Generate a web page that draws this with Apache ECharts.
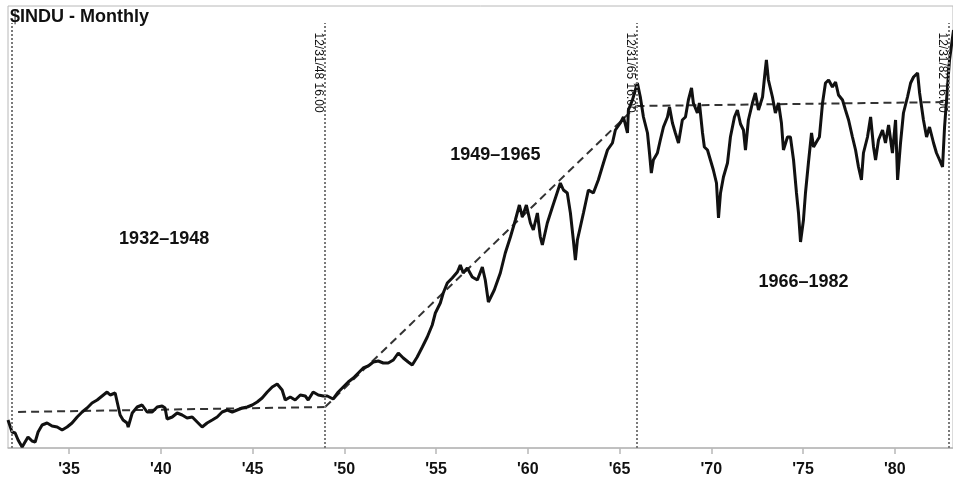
<!DOCTYPE html>
<html>
<head>
<meta charset="utf-8">
<script src="https://cdn.jsdelivr.net/npm/echarts@6/dist/echarts.min.js"></script>
<style>
html,body{margin:0;padding:0;background:#fff;}
#chart{width:953px;height:485px;}
</style>
</head>
<body>
<div id="chart"></div>
<script>
// DJIA monthly, [decimal year, index level]
const djia1932_1948 = [
[1931.67,145],[1931.89,115],[1932.06,112.5],[1932.22,95],[1932.44,77.5],[1932.60,90],[1932.76,102.5],[1932.98,92.5],
[1933.15,90],[1933.31,115],[1933.53,132.5],[1933.80,137.5],[1934.07,130],[1934.35,127.5],[1934.62,120],[1934.89,127.5],
[1935.16,137.5],[1935.44,152.5],[1935.71,165],[1935.98,175],[1936.25,187.5],[1936.53,195],[1936.80,205],[1937.07,215],
[1937.24,207.5],[1937.51,212.5],[1937.62,190],[1937.78,157.5],[1937.94,145],[1938.16,137.5],[1938.22,127.5],[1938.44,162.5],
[1938.71,177.5],[1938.98,182.5],[1939.25,165],[1939.53,165],[1939.80,177.5],[1940.07,180],[1940.23,175],[1940.34,147.5],
[1940.62,152.5],[1940.89,162.5],[1941.16,157.5],[1941.43,150],[1941.71,152.5],[1941.98,140],[1942.25,127.5],[1942.52,137.5],
[1942.80,145],[1943.07,152.5],[1943.34,165],[1943.62,170],[1943.89,165],[1944.16,170],[1944.43,175],[1944.71,177.5],
[1944.98,182.5],[1945.25,190],[1945.52,200],[1945.80,215],[1946.07,227.5],[1946.34,235],[1946.61,220],[1946.78,195],
[1947.05,202.5],[1947.32,195],[1947.60,207.5],[1947.87,205],[1948.03,195],[1948.30,215],[1948.58,207.5],[1948.85,205]
];
const djia1949_1965 = [
[1949.07,205],[1949.39,197.5],[1949.67,215],[1949.94,227.5],[1950.21,240],[1950.49,250],[1950.76,262.5],[1951.03,275],
[1951.30,280],[1951.58,290],[1951.85,292.5],[1952.12,287.5],[1952.39,287.5],[1952.67,295],[1952.94,312.5],[1953.21,300],
[1953.48,290],[1953.70,282.5],[1953.97,302.5],[1954.25,327.5],[1954.52,352.5],[1954.79,382.5],[1954.96,412.5],[1955.23,437.5],
[1955.39,462.5],[1955.61,487.5],[1955.88,500],[1956.16,515],[1956.32,532.5],[1956.48,512.5],[1956.70,525],[1956.97,502.5],
[1957.25,495],[1957.52,527.5],[1957.68,495],[1957.85,440],[1958.17,470],[1958.50,512.5],[1958.77,562.5],[1959.05,602.5],
[1959.32,645],[1959.54,682.5],[1959.70,652.5],[1959.92,682.5],[1960.14,637.5],[1960.30,620],[1960.52,662.5],[1960.68,602.5],
[1960.79,582.5],[1961.06,637.5],[1961.34,677.5],[1961.61,715],[1961.77,737.5],[1961.94,720],[1962.15,712.5],[1962.32,662.5],
[1962.48,595],[1962.59,545],[1962.70,595],[1962.86,627.5],[1963.03,662.5],[1963.30,720],[1963.57,712.5],[1963.84,745],
[1964.12,787.5],[1964.34,820],[1964.61,837.5],[1964.77,870],[1965.04,887.5],[1965.21,902.5],[1965.43,862.5],[1965.48,920],
[1965.70,945],[1965.97,987.5]
];
const djia1966_1983 = [
[1966.13,952.5],[1966.30,902.5],[1966.52,862.5],[1966.63,812.5],[1966.73,762.5],[1966.84,795],[1967.06,812.5],[1967.22,845],
[1967.39,877.5],[1967.61,902.5],[1967.72,927.5],[1967.88,887.5],[1968.04,862.5],[1968.21,837.5],[1968.42,895],[1968.59,902.5],
[1968.75,945],[1968.92,975],[1969.02,937.5],[1969.24,912.5],[1969.35,937.5],[1969.52,862.5],[1969.62,827.5],[1969.79,820],
[1969.95,795],[1970.11,770],[1970.28,737.5],[1970.39,650],[1970.50,712.5],[1970.66,752.5],[1970.88,787.5],[1971.04,852.5],
[1971.26,902.5],[1971.42,920],[1971.59,885],[1971.75,870],[1971.86,820],[1972.02,895],[1972.24,937.5],[1972.40,962.5],
[1972.57,920],[1972.79,952.5],[1972.90,1002.5],[1973.00,1045],[1973.11,995],[1973.33,952.5],[1973.49,912.5],[1973.66,937.5],
[1973.82,887.5],[1973.93,820],[1974.15,852.5],[1974.31,852.5],[1974.48,795],[1974.64,712.5],[1974.75,662.5],[1974.86,590],
[1975.02,645],[1975.13,712.5],[1975.29,787.5],[1975.46,862.5],[1975.57,827.5],[1975.79,845],[1975.89,852.5],[1976.06,937.5],
[1976.22,987.5],[1976.39,995],[1976.60,977.5],[1976.77,990],[1976.93,957.5],[1977.15,945],[1977.31,920],[1977.48,895],
[1977.69,852.5],[1977.86,820],[1978.02,777.5],[1978.18,745],[1978.29,812.5],[1978.51,852.5],[1978.68,902.5],[1978.84,827.5],
[1978.95,795],[1979.11,845],[1979.33,870],[1979.49,837.5],[1979.66,882.5],[1979.87,812.5],[1980.04,895],[1980.15,745],
[1980.31,837.5],[1980.47,912.5],[1980.69,952.5],[1980.86,987.5],[1981.02,1002.5],[1981.24,1012.5],[1981.35,962.5],[1981.56,895],
[1981.73,852.5],[1981.89,877.5],[1982.11,837.5],[1982.27,812.5],[1982.44,795],[1982.60,777.5],[1982.71,877.5],[1982.87,977.5],
[1982.98,1045],[1983.20,1120]
];
// dashed trend lines per era
const trend1932_1948 = [[1932.22,165],[1948.95,177.5]];
const trend1949_1965 = [[1948.95,177.5],[1965.92,930]];
const trend1966_1982 = [[1965.92,930],[1982.93,940]];
// vertical period markers
const markerYears = [1931.85, 1948.95, 1965.92, 1982.93];
const markerTop = 1137.5;
const dateLabelYears = [1948.95, 1965.92, 1982.93];
const dateLabels = ['12/31/48 16.00', '12/31/65 16.00', '12/31/82 16.00'];
const dateLabelLevel = 1112.5;
// era labels
const eraNames = ['1932\u20131948', '1949\u20131965', '1966\u20131982'];
const eraYears = [1940.18, 1958.23, 1975.02];
const eraLevels = [597.5, 807.5, 490];
// axis
const tickYears = [1935, 1940, 1945, 1950, 1955, 1960, 1965, 1970, 1975, 1980];
const xMin = 1931.67, xMax = 1983.17;
const yMin = 75, yMax = 1180;

const FONT = 'Liberation Sans, Arial, Helvetica, sans-serif';
const chart = echarts.init(document.getElementById('chart'), null, {renderer: 'canvas'});
const dashed = {color: '#333', width: 2, type: [8, 5]};

chart.setOption({
  animation: false,
  backgroundColor: '#fff',
  title: {
    text: '$INDU - Monthly', left: 10, top: 8, padding: 0,
    textStyle: {fontFamily: FONT, fontSize: 18, fontWeight: 'bold', color: '#111'}
  },
  grid: {left: 8, right: -2, top: 6, bottom: 37, show: true, borderColor: '#b8b8b8', borderWidth: 1, containLabel: false},
  xAxis: {
    type: 'value', min: xMin, max: xMax,
    axisLine: {lineStyle: {color: '#b8b8b8', width: 1.5}},
    axisTick: {show: true, customValues: tickYears, length: 6, lineStyle: {color: '#b8b8b8', width: 1.5}},
    axisLabel: {customValues: tickYears, formatter: v => "'" + String(v).slice(2), fontFamily: FONT,
      fontSize: 16, fontWeight: 'bold', color: '#111', margin: 14},
    splitLine: {show: false}
  },
  yAxis: {type: 'value', min: yMin, max: yMax, show: false, splitLine: {show: false}},
  series: [
    {
      name: 'markers', type: 'scatter', symbolSize: 1, itemStyle: {color: 'rgba(0,0,0,0)', opacity: 1}, z: 1,
      data: dateLabelYears.map((x, i) => ({value: [x, dateLabelLevel], name: dateLabels[i]})),
      label: {show: true, formatter: '{b}', position: [0, 0], rotate: -90, align: 'left', verticalAlign: 'top',
        fontFamily: FONT, fontSize: 12, color: '#111', textBorderWidth: 0, opacity: 1},
      markLine: {
        silent: true, symbol: ['none', 'none'], label: {show: false},
        lineStyle: {type: 'dotted', color: '#7a7a7a', width: 2},
        data: markerYears.map(x => [{coord: [x, yMin]}, {coord: [x, markerTop]}])
      }
    },
    {type: 'line', data: trend1932_1948, symbol: 'none', lineStyle: dashed, z: 2},
    {type: 'line', data: trend1949_1965, symbol: 'none', lineStyle: dashed, z: 2},
    {type: 'line', data: trend1966_1982, symbol: 'none', lineStyle: dashed, z: 2},
    {
      name: '$INDU', type: 'line', symbol: 'none', z: 3,
      data: djia1932_1948.concat(djia1949_1965, djia1966_1983),
      lineStyle: {color: '#111', width: 3}
    },
    {
      name: 'eras', type: 'scatter', symbolSize: 1, itemStyle: {color: 'rgba(0,0,0,0)', opacity: 1}, z: 4,
      data: eraNames.map((n, i) => ({value: [eraYears[i], eraLevels[i]], name: n})),
      label: {show: true, formatter: '{b}', position: 'inside', align: 'center', verticalAlign: 'middle',
        fontFamily: FONT, fontSize: 18, fontWeight: 'bold', color: '#111', textBorderWidth: 0, opacity: 1}
    }
  ]
});
</script>
</body>
</html>
